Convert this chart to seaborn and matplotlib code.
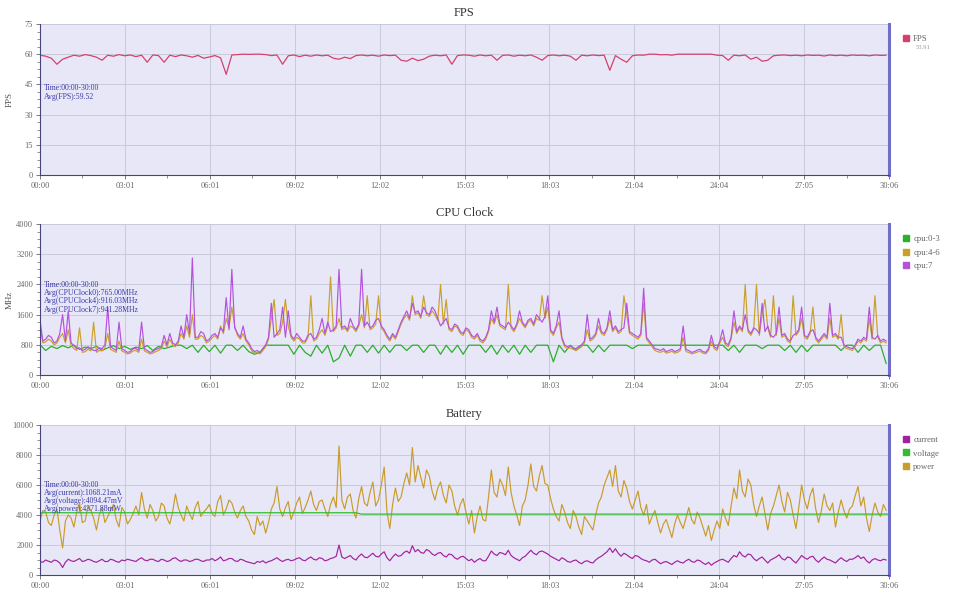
import numpy as np
import pandas as pd
import matplotlib
matplotlib.use("Agg")
import matplotlib.pyplot as plt
from matplotlib.lines import Line2D
from matplotlib.ticker import AutoMinorLocator
import seaborn as sns

# --------------------------------------------------
# Data
# fps / cpu:0-3 sampled every 12 s, the noisy series every 6 s
# --------------------------------------------------
step_s = 12
step_fine_s = 6
total_s = 1806

tick_labels = ["00:00", "03:01", "06:01", "09:02", "12:02", "15:03",
               "18:03", "21:04", "24:04", "27:05", "30:06"]

fps = [59.5, 59, 58, 55, 57.5, 58.5, 59.5, 59, 59.8, 59.3,
       58.5, 57, 59.5, 59, 59.8, 59.2, 59.6, 58.8, 59.5, 56,
       59.6, 59.3, 56, 59.5, 58.8, 59.6, 59.2, 58.5, 59.4, 58,
       58.6, 59.3, 58.2, 50, 59.6, 59.8, 60, 59.9, 60, 60,
       59.8, 59.3, 59.6, 55, 59.2, 59.6, 58.8, 59.5, 59, 59.6,
       59.2, 59.5, 58, 57.5, 58.5, 57.8, 59.3, 59.6, 59.2, 59.5,
       59, 59.6, 59.3, 59.5, 57, 56.5, 58, 56.8, 57.5, 59,
       59.5, 59.2, 59.6, 55, 59.3, 59.6, 59.5, 59, 59.6, 59.2,
       59.5, 57, 59.4, 59.6, 59, 59.5, 59.2, 59.6, 58.5, 57,
       59.3, 59.6, 59.2, 59.5, 59, 57, 59.5, 59.2, 59.6, 59.3,
       59.5, 52, 59.3, 57.5, 56, 59.2, 59.6, 59.5, 60, 60,
       59.7, 59.8, 59.5, 60, 60, 60, 60, 60, 60, 60,
       59.5, 59.3, 57, 59.5, 59.2, 59.6, 57.5, 58.5, 56.5, 57,
       59.2, 59.5, 59.6, 59.3, 59.5, 59.2, 59.6, 59.4, 59.5, 59.1,
       59.6, 59.3, 59.5, 59.2, 59.6, 59.4, 59.5, 59.2, 59.6, 59.4,
       59.5]

cpu_0_3 = [800, 650, 760, 700, 780, 720, 790, 680, 740, 700,
           760, 650, 720, 780, 700, 760, 680, 740, 700, 780,
           650, 760, 700, 740, 790, 790, 700, 790, 600, 790,
           620, 790, 580, 790, 790, 650, 790, 620, 550, 600,
           790, 790, 790, 790, 790, 550, 790, 600, 500, 790,
           580, 790, 350, 450, 790, 500, 790, 790, 600, 790,
           580, 790, 600, 790, 790, 650, 790, 790, 600, 790,
           790, 550, 790, 600, 790, 550, 790, 790, 790, 600,
           790, 550, 790, 600, 790, 550, 790, 600, 790, 790,
           790, 350, 790, 600, 790, 650, 790, 790, 600, 790,
           620, 790, 790, 790, 790, 700, 790, 790, 790, 790,
           790, 790, 790, 790, 790, 790, 790, 790, 790, 790,
           790, 790, 650, 790, 600, 790, 790, 790, 700, 790,
           790, 790, 650, 790, 600, 790, 620, 790, 790, 790,
           790, 790, 650, 790, 790, 600, 790, 650, 790, 790,
           300]

cpu_4_6 = [1300, 850, 880, 950, 900, 800, 850, 1000, 1100, 850,
           1200, 780, 700, 650, 1250, 600, 620, 680, 640, 1400,
           600, 650, 640, 720, 1100, 680, 640, 600, 900, 640,
           600, 560, 580, 640, 650, 600, 950, 640, 600, 560,
           580, 620, 650, 700, 900, 750, 950, 800, 750, 850,
           1100, 950, 1300, 1000, 1600, 950, 950, 1050, 1000, 850,
           900, 980, 1050, 950, 1300, 1100, 1500, 1250, 1800, 1300,
           1050, 950, 1100, 900, 800, 650, 580, 600, 560, 650,
           750, 950, 1500, 2000, 1050, 1100, 1400, 2000, 1300, 1000,
           900, 1000, 950, 850, 850, 1000, 2100, 900, 950, 1100,
           1200, 1050, 1300, 2600, 1150, 1250, 1500, 1200, 1250, 1150,
           1300, 1250, 1150, 1300, 1600, 1250, 2100, 1200, 1250, 1350,
           2100, 1250, 1150, 1000, 900, 1050, 950, 1150, 1350, 1500,
           1600, 1450, 2100, 1600, 1650, 1500, 2100, 1600, 1550, 1700,
           1600, 1450, 2400, 1350, 2000, 1200, 1150, 1300, 1250, 1100,
           1050, 1200, 1150, 1000, 950, 1050, 900, 850, 950, 1150,
           1500, 1350, 1600, 1300, 1250, 1200, 2400, 1250, 1150, 1300,
           1500, 1350, 1250, 1400, 1450, 1300, 1500, 1450, 2100, 1500,
           1800, 1150, 1050, 1250, 1400, 950, 750, 700, 720, 680,
           650, 700, 750, 850, 1200, 900, 950, 1050, 1300, 1100,
           1050, 1200, 1500, 1150, 1250, 1100, 1150, 2100, 1600, 1100,
           1050, 1000, 950, 1050, 1900, 950, 850, 750, 650, 620,
           600, 640, 580, 600, 630, 580, 600, 650, 1000, 620,
           600, 560, 580, 610, 630, 580, 560, 650, 900, 700,
           650, 850, 1000, 800, 750, 950, 1400, 1100, 1250, 1150,
           2400, 1150, 1050, 1200, 2400, 1050, 1600, 2000, 1250, 1000,
           2100, 1050, 1500, 1000, 1050, 900, 850, 2100, 1050, 1150,
           1500, 1000, 950, 1100, 1800, 950, 850, 950, 1050, 950,
           1500, 1000, 1050, 950, 1600, 750, 700, 680, 650, 750,
           900, 850, 950, 900, 1500, 950, 2100, 1000, 850, 900,
           850]

cpu_7 = [1450, 900, 950, 1050, 1000, 850, 900, 1100, 1600, 900,
         1700, 850, 780, 700, 720, 650, 680, 750, 700, 650,
         650, 720, 700, 800, 1800, 750, 700, 650, 1400, 700,
         650, 600, 620, 700, 700, 650, 1400, 700, 650, 600,
         620, 680, 700, 750, 1050, 800, 1100, 850, 800, 900,
         1300, 1000, 1600, 1100, 3100, 1000, 1000, 1150, 1100, 900,
         950, 1050, 1100, 1000, 1250, 1150, 2050, 1200, 2800, 1250,
         1100, 1000, 1300, 950, 850, 700, 620, 650, 600, 700,
         800, 1000, 1900, 1000, 1100, 1200, 1800, 1000, 1700, 1050,
         950, 1100, 1000, 900, 900, 1050, 1100, 950, 1000, 1200,
         1500, 1100, 1400, 1150, 1200, 1300, 2800, 1250, 1300, 1200,
         1500, 1300, 1200, 1350, 2800, 1300, 1400, 1250, 1300, 1450,
         1500, 1300, 1200, 1050, 950, 1100, 1000, 1200, 1400, 1550,
         1700, 1500, 1900, 1650, 1700, 1550, 1800, 1650, 1600, 1800,
         1700, 1500, 1300, 1400, 1500, 1250, 1200, 1350, 1300, 1150,
         1100, 1250, 1200, 1050, 1000, 1100, 950, 900, 1000, 1200,
         1700, 1400, 1800, 1350, 1300, 1250, 1400, 1300, 1200, 1350,
         1700, 1400, 1300, 1450, 1500, 1350, 1600, 1500, 1400, 1550,
         2100, 1200, 1100, 1300, 1700, 1000, 800, 750, 780, 720,
         700, 760, 800, 900, 1600, 950, 1000, 1100, 1500, 1150,
         1100, 1250, 1700, 1200, 1300, 1150, 1200, 1250, 1900, 1150,
         1100, 1050, 1000, 1100, 2300, 1000, 900, 800, 700, 680,
         650, 700, 620, 650, 680, 620, 650, 700, 1300, 680,
         650, 600, 620, 660, 680, 620, 600, 700, 1050, 750,
         700, 900, 1200, 850, 800, 1000, 1700, 1150, 1300, 1200,
         1600, 1200, 1100, 1250, 1200, 1100, 1900, 1150, 1300, 1050,
         1000, 1100, 1800, 1050, 1100, 950, 900, 1050, 1100, 1200,
         1800, 1050, 1000, 1150, 1200, 1000, 900, 1000, 1100, 1000,
         1900, 1050, 1100, 1000, 1000, 800, 750, 720, 700, 800,
         950, 900, 1000, 950, 1800, 1000, 950, 1050, 900, 950,
         900]

current = [900, 850, 1000, 920, 850, 1000, 950, 800, 500, 850,
           1050, 950, 900, 1000, 1100, 900, 950, 1050, 1000, 900,
           850, 950, 1050, 900, 900, 1050, 1000, 900, 850, 1000,
           950, 1050, 1000, 950, 900, 1050, 1150, 1000, 950, 1050,
           1050, 950, 900, 1050, 1000, 900, 950, 1100, 1150, 1000,
           900, 1000, 1000, 900, 950, 1050, 1050, 950, 900, 1000,
           1000, 1100, 950, 1050, 1200, 950, 1000, 1100, 1100, 950,
           900, 1050, 1000, 900, 850, 800, 750, 900, 850, 950,
           800, 900, 950, 1050, 1150, 1000, 900, 1000, 1050, 950,
           1000, 1100, 1150, 1000, 950, 1100, 1200, 1050, 1000, 1150,
           1100, 950, 1000, 1100, 1150, 1250, 2000, 1200, 1100, 1200,
           1300, 1100, 1000, 1250, 1400, 1200, 1150, 1300, 1450, 1250,
           1200, 1400, 1550, 1150, 950, 1200, 1400, 1250, 1300, 1500,
           1600, 1450, 1950, 1550, 1700, 1500, 1450, 1700, 1600, 1400,
           1300, 1450, 1500, 1300, 1200, 1400, 1350, 1150, 1050, 1200,
           1250, 1100, 950, 1050, 850, 1000, 1100, 950, 950, 1250,
           1600, 1400, 1300, 1500, 1450, 1350, 1650, 1300, 1150, 1050,
           950, 1150, 1250, 1450, 1650, 1450, 1350, 1550, 1600, 1500,
           1400, 1250, 1150, 1050, 950, 1150, 1050, 900, 850, 950,
           1000, 850, 750, 900, 950, 850, 800, 1000, 1150, 1250,
           1400, 1550, 1800, 1500, 1750, 1450, 1250, 1450, 1350, 1200,
           1100, 1300, 1250, 1100, 1000, 950, 850, 1000, 1050, 900,
           750, 850, 900, 800, 700, 850, 950, 850, 800, 950,
           1050, 900, 850, 1000, 950, 800, 700, 850, 650, 800,
           900, 1000, 1050, 950, 850, 1100, 1300, 1200, 1550, 1300,
           1200, 1400, 1350, 1100, 950, 1100, 1200, 1000, 800, 1000,
           1100, 1200, 1350, 1100, 1000, 1200, 1150, 950, 800, 1050,
           1300, 1150, 1050, 1200, 1250, 1000, 850, 1050, 1200, 1050,
           1000, 900, 800, 1000, 1150, 1000, 900, 1050, 1050, 1150,
           1300, 1100, 1200, 950, 800, 1000, 1100, 1000, 950, 1050,
           1000]

power = [3600, 4300, 4200, 3500, 3300, 4000, 4400, 3000, 1800, 3600,
         4000, 3800, 3200, 4200, 4800, 3500, 3600, 4600, 4300, 3800,
         3000, 4000, 4500, 3500, 3900, 4300, 4700, 3700, 3200, 4500,
         4200, 3400, 3700, 4100, 4600, 4000, 5500, 4400, 3800, 4700,
         4300, 3600, 3900, 4800, 4600, 3800, 3400, 4200, 5400, 4500,
         4000, 3600, 4600, 4100, 3700, 4500, 4900, 3900, 4200, 4400,
         4700, 4100, 3900, 4900, 5300, 4000, 4400, 5000, 4800, 4200,
         3800, 4300, 4600, 3900, 3600, 3000, 2700, 3900, 3300, 3600,
         2800, 3500, 4400, 4800, 5900, 4400, 3900, 4500, 4900, 3700,
         4200, 4800, 5200, 4100, 4500, 5000, 5600, 4700, 4300, 4900,
         5000, 4400, 3900, 4700, 5200, 4500, 8600, 5000, 4400, 5200,
         5400, 4300, 3800, 5100, 5900, 4800, 4600, 5500, 6200, 4600,
         5000, 6000, 7200, 4200, 3100, 4700, 5800, 4900, 5200, 6100,
         6800, 6000, 8500, 6200, 7300, 6500, 5800, 7000, 6600, 5600,
         5000, 5800, 6200, 5300, 4800, 6000, 5600, 4600, 4000, 4700,
         5100, 4200, 3400, 4300, 2800, 3900, 4600, 3700, 3600, 5200,
         7000, 5500, 5200, 6400, 6000, 5300, 7200, 5500, 4600, 4000,
         3300, 4600, 5000, 6000, 7400, 5900, 5600, 6600, 7300, 6100,
         6000, 5100, 4400, 3900, 3600, 4700, 4200, 3500, 3100, 4300,
         3900, 3200, 2700, 3900, 3600, 3300, 3000, 4000, 4800, 5200,
         6000, 6500, 7000, 5900, 7300, 5600, 5200, 6300, 5800, 4900,
         4400, 5000, 5600, 4500, 4000, 4700, 3400, 3900, 4300, 3500,
         2800, 3400, 3700, 3100, 2500, 3400, 4000, 3500, 3100, 3800,
         4500, 3700, 3400, 4200, 3800, 3200, 2600, 3300, 2300, 3000,
         3600, 3100, 4400, 3800, 3300, 4600, 5800, 5100, 7000, 5600,
         5200, 6400, 6000, 4700, 3900, 4600, 5200, 4100, 3000, 4100,
         4600, 5300, 6000, 4900, 4200, 5500, 5000, 4000, 3100, 4500,
         6000, 5000, 4400, 5300, 5800, 4400, 3500, 4300, 5400, 4600,
         4300, 4800, 3200, 4200, 5000, 4300, 3800, 4400, 4600, 5300,
         5900, 4600, 5200, 3800, 2900, 4000, 4800, 4200, 3900, 4700,
         4300]

# voltage is a flat line with one small step
voltage_t = [0, 672, 684, 1806]
voltage = [4150, 4150, 4060, 4060]

# --------------------------------------------------
# Style
# --------------------------------------------------
sns.set_style("white", {"axes.facecolor": "#E7E7F8"})
plt.rcParams["font.family"] = ["Liberation Serif", "DejaVu Sans"]

fig = plt.figure(figsize=(9.6, 5.95), dpi=100)
ax_fps = fig.add_axes([0.0417, 0.7059, 0.8844, 0.2538])
ax_cpu = fig.add_axes([0.0417, 0.3697, 0.8844, 0.2538])
ax_bat = fig.add_axes([0.0417, 0.0336, 0.8844, 0.2521])

major_pos = np.linspace(0, total_s, len(tick_labels))
minor_pos = (major_pos[:-1] + major_pos[1:]) / 2


def style_axes(ax, ymax, ystep, title, ylabel):
    ax.set_xlim(0, total_s)
    ax.set_ylim(0, ymax)
    ax.set_xticks(major_pos)
    ax.set_xticklabels(tick_labels)
    ax.set_xticks(minor_pos, minor=True)
    ax.set_yticks(np.arange(0, ymax + 1, ystep))
    ax.yaxis.set_minor_locator(AutoMinorLocator(4))
    ax.grid(True, which="major", color="#C5C5D8", linewidth=0.6)
    ax.tick_params(axis="both", which="major", labelsize=6, colors="#666666",
                   length=3, width=0.6, pad=2, direction="out")
    ax.tick_params(axis="both", which="minor", length=2, width=0.5,
                   colors="#666666", direction="out")
    ax.tick_params(bottom=True, left=True, which="both")
    for side in ["left", "bottom"]:
        ax.spines[side].set_color("#45457A")
        ax.spines[side].set_linewidth(0.8)
    ax.spines["top"].set_visible(False)
    ax.spines["right"].set_color("#6F6FC8")
    ax.spines["right"].set_linewidth(2.2)
    ax.set_title(title, fontsize=9, color="#333333", pad=6)
    ax.set_xlabel("")
    ax.set_ylabel(ylabel, fontsize=6.5, color="#555555")
    ax.yaxis.set_label_coords(-0.031, 0.5)


def draw_legend(ax, names, colors):
    handles = [Line2D([], [], marker="s", linestyle="none", markersize=4.5,
                      markerfacecolor=c, markeredgecolor=c, label=n)
               for n, c in zip(names, colors)]
    leg = ax.legend(handles=handles, loc="upper left",
                    bbox_to_anchor=(1.013, 0.95), frameon=False, fontsize=6.3,
                    handlelength=0.6, handletextpad=0.5, labelspacing=0.6,
                    borderaxespad=0)
    for txt in leg.get_texts():
        txt.set_color("#666666")


note_style = dict(fontsize=5.6, color="#3A3AA8", va="top", ha="left",
                  linespacing=1.05)

# --------------------------------------------------
# FPS
# --------------------------------------------------
fps_df = pd.DataFrame({"t": np.arange(len(fps)) * step_s, "fps": fps})
sns.lineplot(data=fps_df, x="t", y="fps", ax=ax_fps, color="#D6416B",
             linewidth=0.9, estimator=None)
style_axes(ax_fps, 75, 15, "FPS", "FPS")
ax_fps.text(0.004, 0.60, "Time:00:00-30:00\nAvg(FPS):59.52",
            transform=ax_fps.transAxes, **note_style)
draw_legend(ax_fps, ["FPS"], ["#D6416B"])
fig.text(916 / 960, 1 - 49 / 595, "53.91", fontsize=4.8, color="#999999")

# --------------------------------------------------
# CPU Clock
# --------------------------------------------------
cpu_colors = ["#2CAF2C", "#C9A02B", "#B552DB"]
cpu_names = ["cpu:0-3", "cpu:4-6", "cpu:7"]
sns.lineplot(x=np.arange(len(cpu_0_3)) * step_s, y=cpu_0_3, ax=ax_cpu,
             color=cpu_colors[0], linewidth=0.9, estimator=None)
sns.lineplot(x=np.arange(len(cpu_4_6)) * step_fine_s, y=cpu_4_6, ax=ax_cpu,
             color=cpu_colors[1], linewidth=0.85, estimator=None)
sns.lineplot(x=np.arange(len(cpu_7)) * step_fine_s, y=cpu_7, ax=ax_cpu,
             color=cpu_colors[2], linewidth=0.85, estimator=None)
style_axes(ax_cpu, 4000, 800, "CPU Clock", "MHz")
ax_cpu.text(0.004, 0.625,
            "Time:00:00-30:00\nAvg(CPUClock0):765.00MHz\n"
            "Avg(CPUClock4):916.03MHz\nAvg(CPUClock7):941.28MHz",
            transform=ax_cpu.transAxes, **note_style)
draw_legend(ax_cpu, cpu_names, cpu_colors)

# --------------------------------------------------
# Battery
# --------------------------------------------------
bat_colors = ["#A3219E", "#2EBE2E", "#C99B2A"]
bat_names = ["current", "voltage", "power"]
sns.lineplot(x=np.arange(len(power)) * step_fine_s, y=power, ax=ax_bat,
             color=bat_colors[2], linewidth=0.85, estimator=None)
sns.lineplot(x=voltage_t, y=voltage, ax=ax_bat, color=bat_colors[1],
             linewidth=0.9, estimator=None)
sns.lineplot(x=np.arange(len(current)) * step_fine_s, y=current, ax=ax_bat,
             color=bat_colors[0], linewidth=0.85, estimator=None)
style_axes(ax_bat, 10000, 2000, "Battery", "")
ax_bat.text(0.004, 0.63,
            "Time:00:00-30:00\nAvg(current):1068.21mA\n"
            "Avg(voltage):4094.47mV\nAvg(power):4371.88mW",
            transform=ax_bat.transAxes, **note_style)
draw_legend(ax_bat, bat_names, bat_colors)

fig.savefig("out.png", dpi=100)
